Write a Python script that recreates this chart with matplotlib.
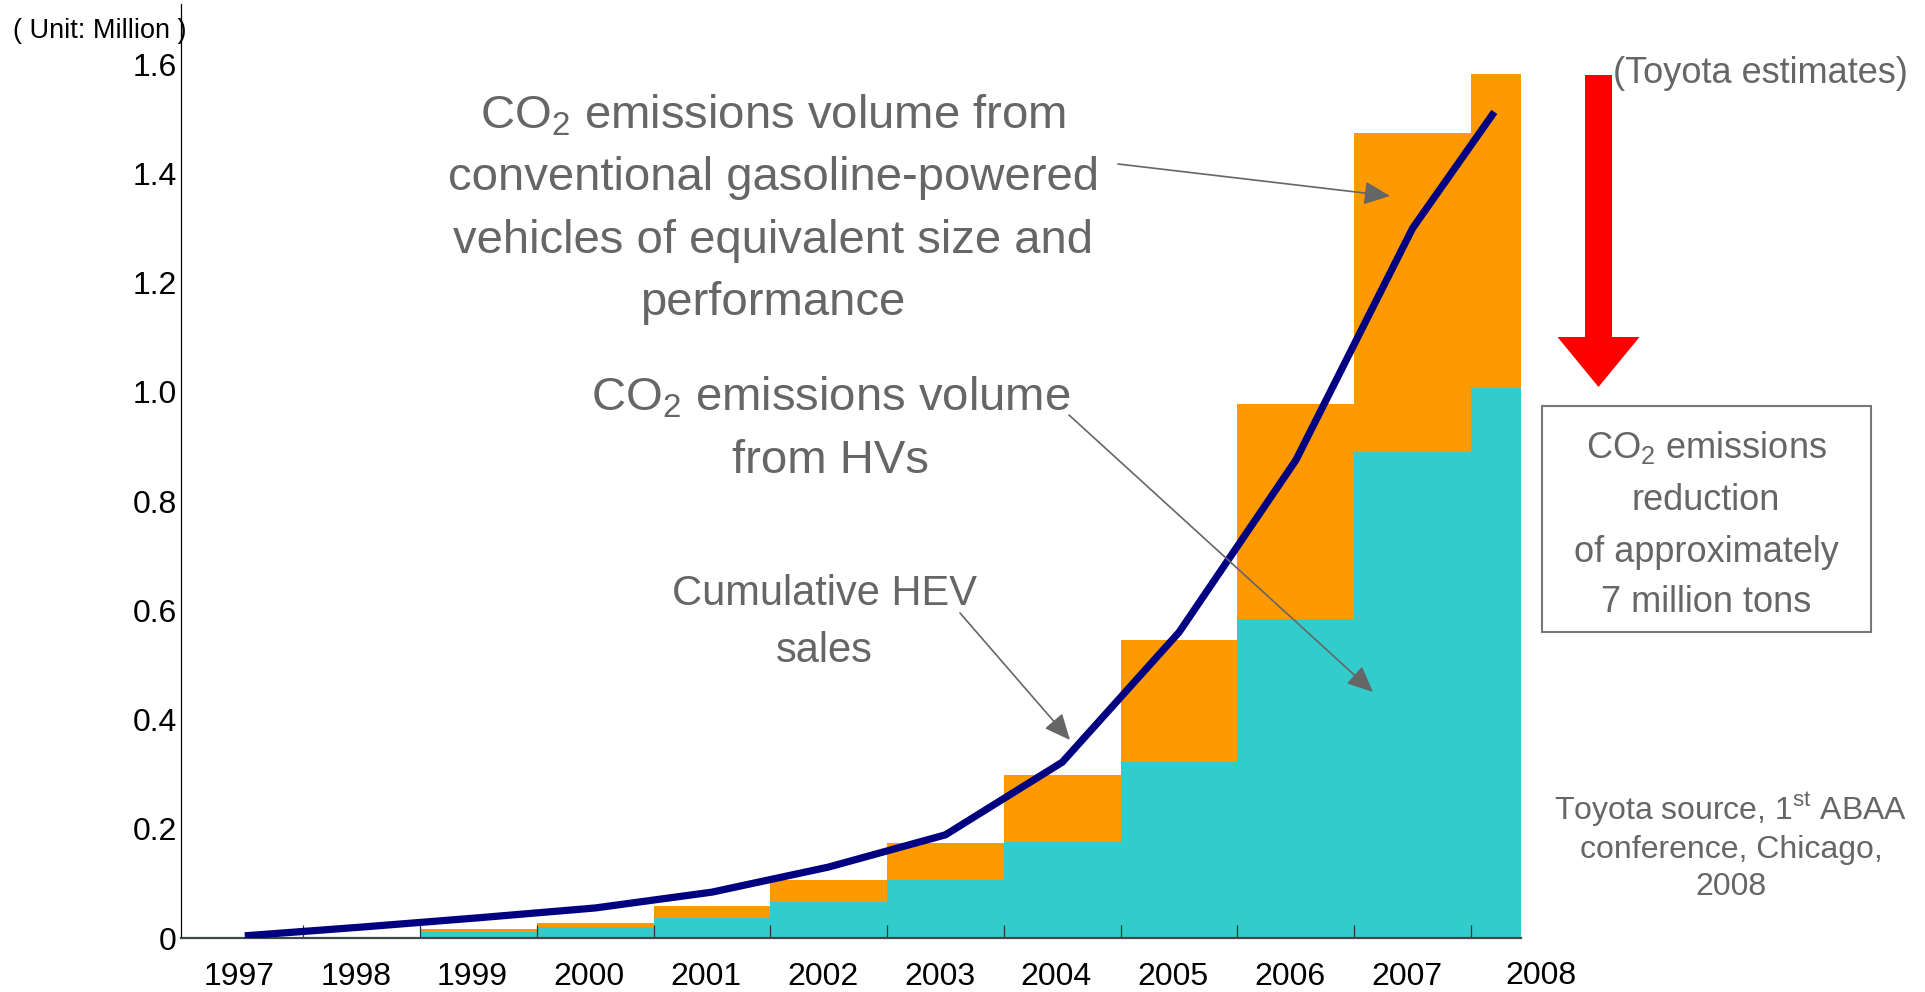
import numpy as np
import matplotlib
matplotlib.use('Agg')
import matplotlib.pyplot as plt
import matplotlib.patches as mpatches
import matplotlib.transforms as mtransforms
from matplotlib import font_manager as fm

# ── Data (million) ────────────────────────────────────────────────────────────
bar_years     = [1999, 2000, 2001, 2002, 2003, 2004, 2005, 2006, 2007, 2008]
co2_gasoline  = [0.017, 0.028, 0.059, 0.106, 0.174, 0.299, 0.546, 0.978, 1.474, 1.582]
co2_hv        = [0.011, 0.020, 0.037, 0.066, 0.106, 0.176, 0.322, 0.584, 0.891, 1.007]

sales_years   = [1997, 1998, 1999, 2000, 2001, 2002, 2003, 2004, 2005, 2006, 2007, 2007.7]
hev_sales     = [0.004, 0.020, 0.037, 0.055, 0.084, 0.130, 0.189, 0.322, 0.560, 0.875, 1.300, 1.513]

year_labels   = ['1997', '1998', '1999', '2000', '2001', '2002', '2003', '2004',
                 '2005', '2006', '2007']
last_label    = '2008'
y_ticks       = [0, 0.2, 0.4, 0.6, 0.8, 1.0, 1.2, 1.4, 1.6]
y_ticklabels  = ['0', '0.2', '0.4', '0.6', '0.8', '1.0', '1.2', '1.4', '1.6']

ORANGE = '#FF9900'
TEAL   = '#33CCCC'
NAVY   = '#000080'
GREY   = '#666666'

names = {f.name for f in fm.fontManager.ttflist}
NARROW = 'Liberation Sans Narrow' if 'Liberation Sans Narrow' in names else 'Liberation Sans'
SCALE = 1.15 if NARROW.endswith('Narrow') else 1.0   # narrow face can run a bit larger
REGULAR = 'Liberation Sans'
plt.rcParams['font.family'] = [NARROW, 'DejaVu Sans']

W, H = 1925, 992
fig = plt.figure(figsize=(W / 100, H / 100), dpi=100)
ax = fig.add_axes([181 / W, 54 / H, 1340 / W, 934 / H])


def fp(x, y):
    # pixel position (from top-left) -> figure fraction
    return x / W, 1 - y / H


def text_block(lines, cx, baselines, size, **kw):
    for s, yb in zip(lines, baselines):
        fig.text(*fp(cx, yb), s, fontsize=size * SCALE, ha='center', va='baseline', **kw)


# ── Bars: gasoline equivalent behind, HV in front ─────────────────────────────
widths = [1.0] * (len(bar_years) - 1) + [0.43]
lefts = [y - 0.5 for y in bar_years]
ax.bar(lefts, co2_gasoline, width=widths, align='edge', color=ORANGE, linewidth=0, zorder=1)
ax.bar(lefts, co2_hv, width=widths, align='edge', color=TEAL, linewidth=0, zorder=1.1)

# ── Cumulative HEV sales line ─────────────────────────────────────────────────
ax.plot(sales_years, hev_sales, color=NAVY, linewidth=5.2, solid_capstyle='butt',
        solid_joinstyle='miter', zorder=3)

# x axis: inward ticks at bar edges, labels under each year
ax.set_xticks([y - 0.5 for y in range(1998, 2009)])
ax.set_xticklabels([])
label_pos = [y - 0.05 for y in range(1997, 2008)]
ax.set_xticks(label_pos, minor=True)
ax.set_xticklabels(year_labels, minor=True, fontsize=23 * SCALE)
ax.tick_params(axis='x', which='major', direction='in', length=9.5, width=0.9, color='#333333')
ax.tick_params(axis='x', which='minor', length=0, pad=17)

# last year label sits past the end of the axis
trans = mtransforms.blended_transform_factory(ax.transData, fig.transFigure)
ax.text(2008.1, 1 - 984 / H, last_label, transform=trans, fontsize=23 * SCALE,
        ha='center', va='baseline', clip_on=False)

ax.set_yticks(y_ticks)
ax.set_yticklabels(y_ticklabels, fontsize=23 * SCALE)
ax.tick_params(axis='y', length=0, pad=3)

ax.set_xlim(1996.454, 2007.928)
ax.set_ylim(0, 1.7106)

ax.spines['top'].set_visible(False)
ax.spines['right'].set_visible(False)
ax.spines['left'].set_linewidth(0.9)
ax.spines['left'].set_color('black')
ax.spines['bottom'].set_linewidth(1.6)
ax.spines['bottom'].set_color('#3a4a4a')

# ── Texts ─────────────────────────────────────────────────────────────────────
fig.text(*fp(13, 38), '( Unit: Million )', fontsize=19.5 * SCALE, ha='left',
         va='baseline', color='black')

CO2 = 'CO$_\\mathregular{2}$'
text_block([CO2 + ' emissions volume from', 'conventional gasoline-powered',
            'vehicles of equivalent size and', 'performance'],
           773, [128, 190, 253, 315], 34, color=GREY)
text_block([CO2 + ' emissions volume', 'from HVs'], 831, [410, 473], 34, color=GREY)
text_block(['Cumulative HEV', 'sales'], 824, [605, 662], 30, color=GREY)
text_block(['(Toyota estimates)'], 1760, [83], 26, color=GREY)

text_block([CO2 + ' emissions', 'reduction', 'of approximately', '7 million tons'],
           1706, [458, 510, 562, 612], 26, color=GREY)
box = mpatches.Rectangle(fp(1542, 632), (1871 - 1542) / W, (632 - 406) / H,
                         transform=fig.transFigure, fill=False,
                         edgecolor='#777777', linewidth=1.5)
fig.add_artist(box)

for s, yb in zip(['Toyota source, 1$^\\mathregular{st}$ ABAA', 'conference, Chicago,', '2008'],
                 [820, 858, 895]):
    fig.text(*fp(1731, yb), s, fontsize=23, color=GREY, ha='center', va='baseline',
             family=[REGULAR, 'DejaVu Sans'])

# ── Red reduction arrow ───────────────────────────────────────────────────────
red = mpatches.FancyArrow(1598.5 / 100, (H - 75) / 100, 0, -(387 - 75) / 100,
                          width=27 / 100, head_width=82 / 100, head_length=50 / 100,
                          length_includes_head=True, transform=fig.dpi_scale_trans,
                          color='#FF0000', linewidth=0)
fig.add_artist(red)

# ── Pointer arrows ────────────────────────────────────────────────────────────
arrow_kw = dict(arrowstyle='-|>,head_length=1.0,head_width=0.45', color=GREY,
                lw=1.2, mutation_scale=16, shrinkA=0, shrinkB=0)
for start, end in [((1118, 164), (1390, 196)),
                   ((1069, 415), (1373, 692)),
                   ((960, 613), (1070, 740))]:
    ax.annotate('', xy=fp(*end), xycoords='figure fraction',
                xytext=fp(*start), textcoords='figure fraction',
                arrowprops=arrow_kw, zorder=5)

plt.savefig('out.png', dpi=100)
plt.close()
